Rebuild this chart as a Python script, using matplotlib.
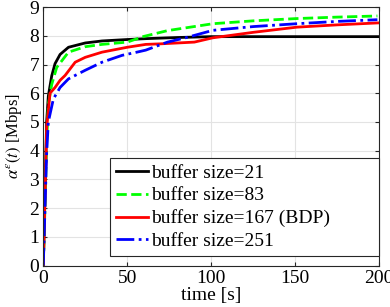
import numpy as np
import matplotlib; matplotlib.use("Agg"); import matplotlib.pyplot as plt

plt.rcParams["font.family"] = ["Liberation Serif", "DejaVu Serif"]
plt.rcParams["mathtext.fontset"] = "stix"

# buffer size = 21
t21 = [0, 1, 2, 3, 5, 7, 10, 15, 25, 35, 50, 61, 80, 100, 150, 200]
y21 = [0, 2.5, 5.0, 5.9, 6.6, 7.03, 7.35, 7.6, 7.75, 7.82, 7.87, 7.9, 7.94, 7.97, 7.97, 7.97]
# buffer size = 83
t83 = [0, 1, 2, 3, 5, 8, 10, 15, 25, 35, 50, 60, 74, 101, 125, 151, 175, 199]
y83 = [0, 2.0, 4.3, 5.6, 6.3, 6.9, 7.05, 7.43, 7.62, 7.7, 7.78, 7.98, 8.18, 8.42, 8.52, 8.6, 8.65, 8.69]
# buffer size = 167 (BDP)
t167 = [0, 1, 2, 4, 7, 10, 13, 16, 19, 25, 35, 50, 61, 70, 90, 101, 125, 151, 175, 200]
y167 = [0, 2.3, 4.8, 6.0, 6.2, 6.45, 6.62, 6.85, 7.08, 7.25, 7.43, 7.6, 7.7, 7.72, 7.78, 7.93, 8.12, 8.3, 8.38, 8.45]
# buffer size = 251
t251 = [0, 1, 2, 3, 6, 10, 15, 25, 35, 47, 55, 61, 74, 86, 101, 125, 151, 175, 199]
y251 = [0, 2.0, 3.9, 5.0, 5.8, 6.2, 6.5, 6.8, 7.08, 7.32, 7.42, 7.5, 7.78, 7.95, 8.19, 8.32, 8.42, 8.5, 8.56]

labels = ["buffer size=21", "buffer size=83", "buffer size=167 (BDP)", "buffer size=251"]

fig = plt.figure(figsize=(3.9, 3.07), dpi=100)
ax = fig.add_axes([0.111, 0.135, 0.861, 0.842])
ax.plot(t21, y21, color="k", lw=2.0, ls="-", label=labels[0])
ax.plot(t83, y83, color=(0, 1, 0), lw=2.0, ls="--", label=labels[1])
ax.plot(t167, y167, color=(1, 0, 0), lw=2.0, ls="-", label=labels[2])
ax.plot(t251, y251, color=(0, 0, 1), lw=2.0, ls="-.", label=labels[3])

ax.set_xlim(0, 200); ax.set_ylim(0, 9)
ax.set_xticks([0, 50, 100, 150, 200]); ax.set_yticks(range(0, 10))
ax.tick_params(direction="in", labelsize=14, length=3, color="#262626", pad=3,
               top=True, right=True)
ax.grid(color="#e3e3e3", lw=0.8)
ax.set_axisbelow(True)
for s in ax.spines.values(): s.set_color("#262626"); s.set_linewidth(0.8)
ax.set_xlabel("time [s]", fontsize=14, labelpad=0)
ax.set_ylabel(r"$\alpha^{\varepsilon}(t)$ [Mbps]", fontsize=12, labelpad=4)

# MATLAB-style wide box: stretch the frame to the reference width
leg = ax.legend(loc="lower left", bbox_to_anchor=(0.199, 0.037, 0.801, 0.37), mode="expand",
                borderaxespad=0, fontsize=14, handlelength=1.65, handletextpad=0.15,
                labelspacing=0.26, fancybox=False, framealpha=1, edgecolor="#262626",
                borderpad=0.3)
leg.get_frame().set_linewidth(0.8)

fig.savefig("out.png", dpi=100)
